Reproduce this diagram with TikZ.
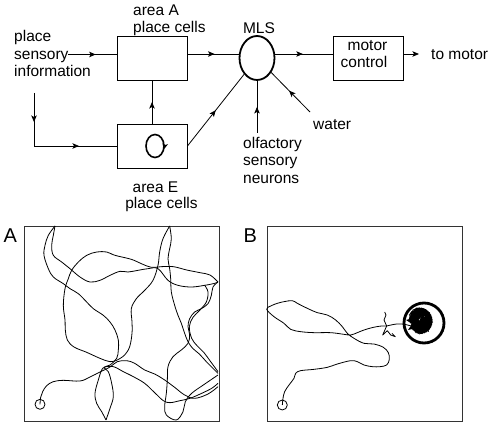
\documentclass[tikz,border=0pt]{standalone}
\usepackage{fontspec}
\setmainfont{Liberation Sans}
\usetikzlibrary{shapes.geometric,arrows.meta,decorations.markings}
\begin{document}
\begin{tikzpicture}[x=1pt,y=-1pt,
  myarr/.tip={Stealth[length=6.5pt,width=5.5pt,inset=1.5pt]},
  box/.style={draw, line width=0.9pt, minimum width=70pt, minimum height=44pt, inner sep=0},
  lbl/.style={inner sep=0, font=\fontsize{15.5}{17.5}\selectfont},
  biglbl/.style={inner sep=0, font=\fontsize{20}{24}\selectfont},
  conn/.style={line width=0.8pt},
  midarrow/.style={postaction={decorate}, decoration={markings, mark=at position #1 with {\arrow{myarr}}}},
  traj/.style={line width=0.8pt, line join=round},
  panel/.style={draw=black!80, line width=0.9pt, minimum size=195pt, inner sep=0},
]
\useasboundingbox (0,0) rectangle (490,422);

% ---------- top diagram ----------
\node[box] (A) at (152,58) {};
\node[box] (E) at (152,146) {};
\node[draw, ellipse, line width=1.8pt, minimum width=35pt, minimum height=44pt, inner sep=0] (M) at (257,58) {};
\node[box] (C) at (368,58) {};

\node[lbl, anchor=base west] (s1) at (14,42) {place};
\node[lbl, anchor=base west] (s2) at (14,59.5) {sensory};
\node[lbl, anchor=base west] (s3) at (14,77) {information};
\node[lbl, anchor=base west] (a1) at (133,15.7) {area A};
\node[lbl, anchor=base west] (a2) at (133,32.3) {place cells};
\node[lbl, anchor=base] (e1) at (155.5,192.7) {area E};
\node[lbl, anchor=base] (e2) at (161.5,208.3) {place cells};
\node[lbl, anchor=base] (ml) at (259,33.3) {MLS};
\node[lbl, anchor=base] (c1) at (367.5,50.7) {motor};
\node[lbl, anchor=base] (c2) at (364,67.7) {control};
\node[lbl, anchor=base west] (tm) at (431,59.3) {to motor};
\node[lbl, anchor=base west] (wa) at (313,130) {water};
\node[lbl, anchor=base west] (o1) at (243,148.3) {olfactory};
\node[lbl, anchor=base west] (o2) at (243,165.7) {sensory};
\node[lbl, anchor=base west] (o3) at (243,183.3) {neurons};

\coordinate (sOut) at (68,54.5);
\draw[conn, midarrow=0.57] (sOut) -- (sOut -| A.west);
\draw[conn, midarrow=0.53] ([yshift=4pt]A.east) -- ([yshift=4pt]A.east -| M.west);
\draw[conn, midarrow=0.48] ([yshift=4pt]M.east) -- ([yshift=4pt]C.west);
\coordinate (tmA) at (419,54);
\draw[conn, -myarr] ([yshift=4pt]C.east) -- (tmA);
\draw[conn, midarrow=0.5] (E.north) -- (A.south);
\draw[conn, midarrow=0.5] (E.east) -- (M);
\coordinate (sD) at (34,93);
\draw[conn, postaction={decorate}, decoration={markings,
   mark=at position 29pt with {\arrow{myarr}},
   mark=at position 98pt with {\arrow{myarr}}}]
   (sD) -- (sD |- E.west) -- (E.west);
\coordinate (oS) at (257,133);
\draw[conn, midarrow=0.5] (oS) -- (M.south);
\coordinate (wS) at (310,112);
\draw[conn, midarrow=0.54] (wS) -- (M);
\draw[line width=1.6pt, midarrow=0.06] ([xshift=3pt]E.center) ellipse [x radius=9, y radius=11.5];

% ---------- panels ----------
\node[biglbl, anchor=base west] (la) at (3.3,242.7) {A};
\node[biglbl, anchor=base west] (lb) at (243.3,242.7) {B};
\node[panel] (PA) at (121.5,323.5) {};
\node[panel] (PB) at (364.5,323.5) {};

\draw[traj] (40,404.3) circle [radius=5];
\draw[traj] (282.3,405) circle [radius=5];

\begin{scope}[shift={(0,220)}, x=0.33333pt, y=-0.33333pt]
\draw[traj] plot[smooth, tension=0.6] coordinates {(120,553) (122,532) (128,515) (140,497) (160,485) (190,481) (240,483) (270,471) (300,456) (330,441) (352,425) (380,422) (404,430) (434,450) (464,462) (494,480) (524,502) (554,525) (584,535) (624,522) (654,500)};
\draw[traj] plot[smooth, tension=0.6] coordinates {(352,420) (330,425) (300,415) (260,397) (222,381) (202,360) (196,330) (195,300) (190,256) (195,206) (205,176) (215,151) (235,126) (260,106) (290,96) (320,96) (345,106) (394,118) (424,131) (454,142) (484,140) (520,140) (560,150) (600,158) (630,165) (654,186)};
\draw[traj] plot[smooth, tension=0.6] coordinates {(165,18) (160,46) (155,76) (160,106) (185,126) (210,146) (240,171) (270,186) (300,181) (330,166) (360,154) (384,156) (414,151) (444,146) (474,146) (504,181) (534,196) (574,201) (614,196) (644,190) (654,186)};
\draw[traj] plot[smooth, tension=0.6] coordinates {(165,18) (145,46) (135,76) (132,106) (145,146) (160,171) (190,191) (210,206) (235,221) (260,246) (280,266) (310,286) (330,306) (345,330) (355,360) (355,390) (350,415) (330,435) (308,445) (295,480) (285,520) (290,550) (305,575) (318,600)};
\draw[traj] plot[smooth, tension=0.6] coordinates {(318,600) (330,565) (340,530) (335,490) (325,455) (312,442) (340,440) (370,455) (400,470) (434,490) (464,518) (490,542) (510,548) (540,542) (570,535) (605,520) (635,505) (654,490)};
\draw[traj] plot[smooth, tension=0.6] coordinates {(509,18) (489,56) (479,96) (474,136) (459,181) (434,211) (409,236) (394,266) (396,306) (396,340) (389,380) (374,405) (352,420)};
\draw[traj] plot[smooth, tension=0.6] coordinates {(509,18) (514,56) (509,86) (504,116) (509,146) (512,176) (514,216) (524,256) (534,286) (544,310) (554,340) (564,365) (578,385) (598,402) (619,425) (639,445) (654,460)};
\draw[traj] plot[smooth, tension=0.6] coordinates {(654,186) (639,201) (634,226) (624,251) (604,266) (584,276) (569,296) (564,320) (569,345) (564,370) (544,390) (519,410) (504,440) (502,480) (499,520) (494,560) (499,585) (529,600) (549,575) (556,545) (575,520) (610,495) (654,465)};
\draw[traj] plot[smooth, tension=0.6] coordinates {(614,196) (624,216) (619,246) (599,271) (579,292) (568,320) (575,355) (592,378) (612,398) (632,425) (654,455)};
\end{scope}

\begin{scope}[shift={(240,220)}, x=0.33333pt, y=-0.33333pt]
\draw[traj] plot[smooth, tension=0.6] coordinates {(127,555) (129,535) (134,515) (147,495) (162,475) (167,460) (182,452) (222,448) (262,442) (292,432) (332,422) (352,425) (372,435) (397,440) (420,440) (440,435) (448,418) (445,398) (430,382) (402,372) (372,370) (342,355) (322,340) (307,320) (287,300) (262,285) (232,278) (202,265) (172,250) (157,242) (132,245) (112,250) (92,258) (80,268) (102,290) (132,310) (152,328) (182,335) (222,338) (272,338) (312,343) (332,345) (352,338) (372,330) (400,322) (425,318) (440,318)};
\draw[traj] (440,318) -- (432,300) -- (438,285) -- (434,276);
\draw[traj] (440,318) -- (428,345) -- (442,332) -- (452,345) -- (466,350) -- (456,340);
\draw[traj] plot[smooth, tension=0.6] coordinates {(440,318) (470,312) (495,313) (515,318) (535,314)};
\end{scope}

\draw[line width=2.8pt] (424,323) circle [radius=20];
\fill (419,321) -- (423,313) -- (424,317) -- (430,312) -- (428,319) -- (433,322) -- (427,325) -- (429,332) -- (422,328) -- (418,334) -- (416,328) -- (408,330) -- (412,324) -- (406,320) -- (413,318) -- (411,311) -- (417,316) -- cycle;
\draw[line width=0.45pt] plot[samples=280, domain=1:280, variable=\t]
  ({419+13.5*sin(\t*47.31)*abs(sin(\t*23.93))}, {321+13.5*cos(\t*47.31)*abs(sin(\t*23.93))});
\end{tikzpicture}
\end{document}
